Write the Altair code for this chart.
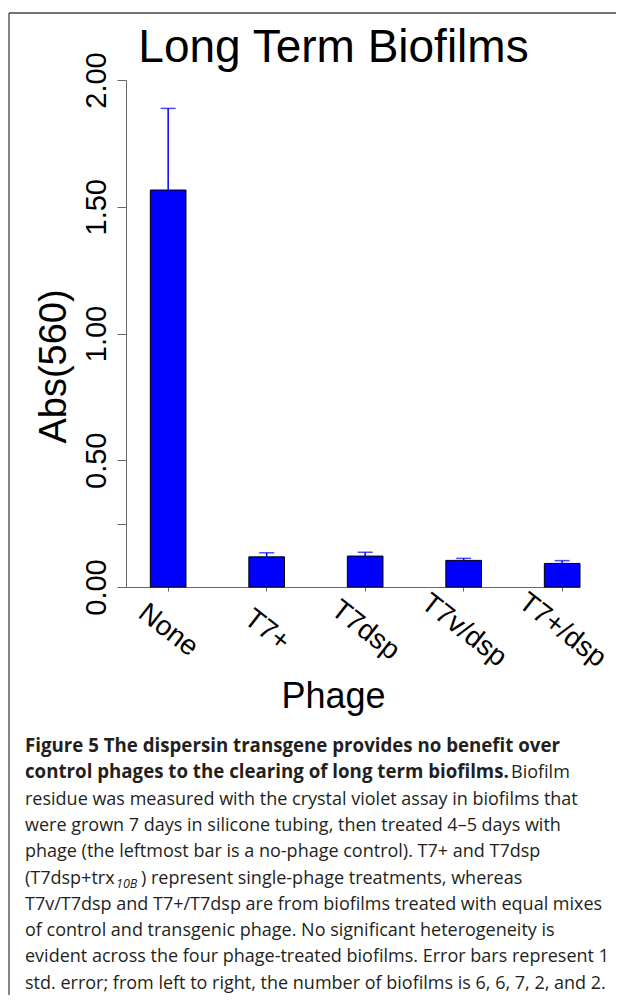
import altair as alt
import pandas as pd

# ---- data ----
phages = ["None", "T7+", "T7dsp", "T7v/dsp", "T7+/dsp"]
means = [1.566, 0.119, 0.122, 0.105, 0.093]
std_errors = [0.322, 0.016, 0.015, 0.008, 0.011]
y_tick_values = [0, 0.25, 0.5, 1.0, 1.5, 2.0]

title_text = "Long Term Biofilms"
x_title = "Phage"
y_title = "Abs(560)"

caption_bold = [
    "Figure 5 The dispersin transgene provides no benefit over",
    "control phages to the clearing of long term biofilms.",
]
caption_line2_rest = "Biofilm"
caption_block_a = [
    "residue was measured with the crystal violet assay in biofilms that",
    "were grown 7 days in silicone tubing, then treated 4\u20135 days with",
    "phage (the leftmost bar is a no-phage control). T7+ and T7dsp",
]
caption_line6 = ["(T7dsp+trx", "10B", ") represent single-phage treatments, whereas"]
caption_block_b = [
    "T7v/T7dsp and T7+/T7dsp are from biofilms treated with equal mixes",
    "of control and transgenic phage. No significant heterogeneity is",
    "evident across the four phage-treated biofilms. Error bars represent 1",
    "std. error; from left to right, the number of biofilms is 6, 6, 7, 2, and 2.",
]

df = pd.DataFrame({"phage": phages, "mean": means, "se": std_errors})
df["top"] = df["mean"] + df["se"]
one = pd.DataFrame({"k": [0]})

AX_FONT = "Liberation Sans"
CAP_FONT = "Open Sans"
BLUE = "#0000FF"
AXIS_GRAY = "#666666"
FRAME = "#444444"

x_scale = alt.Scale(paddingInner=0.638, paddingOuter=0.1235, align=1)
x_axis = alt.Axis(
    title=x_title, titleFont=AX_FONT, titleFontSize=36, titleFontWeight="normal",
    titleColor="black", titleX=207, titleY=120, titleAlign="center",
    titleBaseline="alphabetic",
    labelFont=AX_FONT, labelFontSize=28, labelColor="black", labelAngle=38,
    labelAlign="center", labelBaseline="middle", labelPadding=39,
    labelOverlap=False, labelBound=False,
    tickSize=4, tickColor=AXIS_GRAY, domainColor=AXIS_GRAY, grid=False,
)
y_scale = alt.Scale(domain=[0, 2], nice=False, zero=True)
y_axis = alt.Axis(
    title=y_title, titleFont=AX_FONT, titleFontSize=38, titleFontWeight="normal",
    titleColor="black", titleAngle=270, titleX=-61, titleY=286,
    titleAlign="center", titleBaseline="alphabetic",
    values=y_tick_values,
    labelExpr="datum.value == 0.25 ? '' : format(datum.value, '.2f')",
    labelFont=AX_FONT, labelFontSize=29, labelColor="black", labelAngle=270,
    labelAlign="center", labelBaseline="alphabetic", labelPadding=12,
    labelOverlap=False, labelBound=False,
    tickSize=9, tickColor=AXIS_GRAY, domainColor=AXIS_GRAY, grid=False,
)

x_enc = alt.X("phage:N", sort=phages, scale=x_scale, axis=x_axis)

bars = alt.Chart(df).mark_bar(color=BLUE, stroke="black", strokeWidth=1).encode(
    x=x_enc, y=alt.Y("mean:Q", scale=y_scale, axis=y_axis)
)
stems = alt.Chart(df).mark_rule(color=BLUE, strokeWidth=1.5).encode(
    x=x_enc, y=alt.Y("mean:Q", scale=y_scale, axis=y_axis), y2="top:Q"
)
caps = alt.Chart(df).mark_tick(color=BLUE, thickness=1.5, size=15, orient="horizontal").encode(
    x=x_enc, y=alt.Y("top:Q", scale=y_scale, axis=y_axis)
)

# page frame: left and top edges only
frame_left = alt.Chart(one).mark_rule(color=FRAME, strokeWidth=1.3).encode(
    x=alt.value(-117), y=alt.value(-67), y2=alt.value(915))
frame_top = alt.Chart(one).mark_rule(color=FRAME, strokeWidth=1.3).encode(
    y=alt.value(-67), x=alt.value(-117), x2=alt.value(490))

title = alt.Chart(one).mark_text(
    text=title_text, font=AX_FONT, fontSize=46, align="center",
    baseline="alphabetic", color="black"
).encode(x=alt.value(207.5), y=alt.value(-18))

LH = 26.3
Y0 = 672
CAP_X = -101
cap_common = dict(font=CAP_FONT, fontSize=18, align="left", baseline="alphabetic",
                  color="#231f20", lineHeight=LH)

cap_bold = alt.Chart(one).mark_text(
    text=caption_bold, font=CAP_FONT, fontSize=18.7, fontWeight="bold", align="left",
    baseline="alphabetic", color="#231f20", lineHeight=LH
).encode(x=alt.value(CAP_X), y=alt.value(Y0))
cap_rest2 = alt.Chart(one).mark_text(text=caption_line2_rest, **cap_common).encode(
    x=alt.value(385), y=alt.value(Y0 + LH))
cap_a = alt.Chart(one).mark_text(text=caption_block_a, **cap_common).encode(
    x=alt.value(CAP_X), y=alt.value(Y0 + 2 * LH))
cap_6a = alt.Chart(one).mark_text(text=caption_line6[0], **cap_common).encode(
    x=alt.value(CAP_X), y=alt.value(Y0 + 5 * LH))
cap_6b = alt.Chart(one).mark_text(
    text=caption_line6[1], font=CAP_FONT, fontSize=12.5, fontStyle="italic",
    align="left", baseline="alphabetic", color="#231f20"
).encode(x=alt.value(-10), y=alt.value(Y0 + 5 * LH + 4))
cap_6c = alt.Chart(one).mark_text(text=caption_line6[2], **cap_common).encode(
    x=alt.value(15), y=alt.value(Y0 + 5 * LH))
cap_b = alt.Chart(one).mark_text(text=caption_block_b, **cap_common).encode(
    x=alt.value(CAP_X), y=alt.value(Y0 + 6 * LH))

chart = alt.layer(
    frame_left, frame_top, bars, stems, caps, title,
    cap_bold, cap_rest2, cap_a, cap_6a, cap_6b, cap_6c, cap_b,
).properties(
    width=454, height=507,
    autosize=alt.AutoSizeParams(type="none"),
    padding={"left": 118, "top": 72, "right": 37, "bottom": 409},
    background="white",
).configure_view(strokeWidth=0)

chart.save("out.html", embed_options={"renderer": "svg", "actions": False})
